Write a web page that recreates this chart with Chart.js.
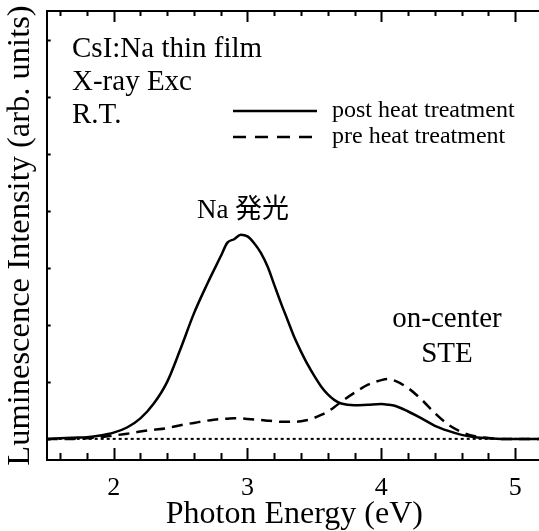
<!DOCTYPE html>
<html>
<head>
<meta charset="utf-8">
<script src="https://cdn.jsdelivr.net/npm/chart.js@4.4.1/dist/chart.umd.min.js"></script>
<style>
    html, body { margin: 0; padding: 0; background: #fff; overflow: hidden; }
    #wrap { width: 542px; height: 531px; }
</style>
</head>
<body>
<div id="wrap"><canvas id="spectrum" width="542" height="531"></canvas></div>
<script>
// Photon energy grid (eV)
const energy = [1.5, 1.6, 1.7, 1.8, 1.9, 2.0, 2.1, 2.2, 2.3, 2.4, 2.5, 2.6, 2.7, 2.8, 2.85, 2.9, 2.95, 3.0, 3.05, 3.1,
    3.15, 3.2, 3.25, 3.3, 3.35, 3.4, 3.45, 3.5, 3.55, 3.6, 3.65, 3.7, 3.8, 3.9, 4.0, 4.05, 4.1, 4.2, 4.3, 4.4,
    4.5, 4.6, 4.7, 4.8, 4.9, 5.0, 5.1, 5.2];

// post heat treatment (solid)
const postHeat = [0.00, 0.01, 0.02, 0.03, 0.06, 0.11, 0.20, 0.36, 0.62, 1.00, 1.58, 2.20, 2.72, 3.20, 3.44, 3.50, 3.58, 3.55, 3.43, 3.26,
    3.02, 2.70, 2.38, 2.08, 1.78, 1.53, 1.30, 1.10, 0.92, 0.78, 0.68, 0.62, 0.59, 0.60, 0.61, 0.60, 0.58, 0.48, 0.36, 0.23,
    0.14, 0.07, 0.03, 0.01, 0.00, 0.00, 0.00, 0.00];

// pre heat treatment (dashed)
const preHeat = [0.00, 0.00, 0.00, 0.01, 0.03, 0.06, 0.09, 0.13, 0.16, 0.19, 0.24, 0.28, 0.32, 0.35, 0.355, 0.36, 0.36, 0.35, 0.34, 0.33,
    0.32, 0.31, 0.30, 0.30, 0.30, 0.31, 0.33, 0.37, 0.42, 0.48, 0.56, 0.65, 0.81, 0.95, 1.03, 1.05, 1.02, 0.89, 0.69, 0.45,
    0.25, 0.12, 0.045, 0.015, 0.00, 0.00, 0.00, 0.00];

// zero line
const baseEnergy = [1.5, 5.2];
const baseLevel = [0, 0];

// ticks
const xTickLabels = [2, 3, 4, 5];
const xMinorStep = 0.2;
const yTicks = [0, 1, 2, 3, 4, 5, 6, 7];

const serif = "'Liberation Serif', 'Times New Roman', 'Noto Sans CJK JP', serif";

const toPoints = (xs, ys) => xs.map((x, i) => ({ x: x, y: ys[i] }));

// draws inward ticks, top frame line, legend and labels
const decorations = {
    id: 'decorations',
    afterDraw(chart) {
        const ctx = chart.ctx;
        const area = chart.chartArea;
        const xs = chart.scales.x;
        const ys = chart.scales.y;
        ctx.save();
        ctx.strokeStyle = '#000';
        ctx.fillStyle = '#000';

        // top frame
        ctx.lineWidth = 2;
        ctx.beginPath();
        ctx.moveTo(area.left, area.top);
        ctx.lineTo(area.right, area.top);
        ctx.stroke();

        // x ticks, bottom and top
        const nSteps = Math.round((xs.max - xs.min) / xMinorStep * 2);
        for (let i = 0; i <= nSteps; i++) {
            const val = Math.round((xs.min + i * xMinorStep / 2) * 10) / 10;
            if (Math.round(val * 10) % 2 !== 0) continue;
            const px = Math.round(xs.getPixelForValue(val)) + 0.5;
            const major = xTickLabels.includes(val);
            ctx.beginPath();
            ctx.moveTo(px, area.bottom);
            ctx.lineTo(px, area.bottom - (major ? 12 : 7));
            ctx.moveTo(px, area.top);
            ctx.lineTo(px, area.top + (major ? 11 : 5));
            ctx.stroke();
        }

        // y ticks on the left
        yTicks.forEach(v => {
            const py = Math.round(ys.getPixelForValue(v)) + 0.5;
            ctx.beginPath();
            ctx.moveTo(area.left, py);
            ctx.lineTo(area.left + 4, py);
            ctx.stroke();
        });

        // legend
        ctx.lineWidth = 2.5;
        ctx.beginPath();
        ctx.moveTo(233, 111);
        ctx.lineTo(317, 111);
        ctx.stroke();
        ctx.setLineDash([13, 9]);
        ctx.beginPath();
        ctx.moveTo(233, 137);
        ctx.lineTo(317, 137);
        ctx.stroke();
        ctx.setLineDash([]);

        ctx.textBaseline = 'alphabetic';
        ctx.textAlign = 'left';
        ctx.font = '24px ' + serif;
        ctx.fillText('post heat treatment', 332, 117);
        ctx.fillText('pre heat treatment', 332, 143);

        // sample info
        ctx.font = '29px ' + serif;
        ctx.fillText('CsI:Na thin film', 72, 57);
        ctx.fillText('X-ray Exc', 72, 90);
        ctx.fillText('R.T.', 72, 123);

        // peak labels
        ctx.textAlign = 'center';
        ctx.font = '27px ' + serif;
        ctx.fillText('Na 発光', 243, 218);
        ctx.font = '29px ' + serif;
        ctx.fillText('on-center', 447, 327);
        ctx.fillText('STE', 447, 362);
        ctx.restore();
    }
};

const ctx = document.getElementById('spectrum').getContext('2d');
new Chart(ctx, {
    type: 'line',
    data: {
        datasets: [
            {
                label: 'zero',
                data: toPoints(baseEnergy, baseLevel),
                borderColor: '#000',
                borderWidth: 2,
                borderDash: [3, 3],
                pointRadius: 0,
                tension: 0
            },
            {
                label: 'pre heat treatment',
                data: toPoints(energy, preHeat),
                borderColor: '#000',
                borderWidth: 2.5,
                borderDash: [11, 7],
                pointRadius: 0,
                cubicInterpolationMode: 'monotone'
            },
            {
                label: 'post heat treatment',
                data: toPoints(energy, postHeat),
                borderColor: '#000',
                borderWidth: 2.5,
                pointRadius: 0,
                cubicInterpolationMode: 'monotone'
            }
        ]
    },
    options: {
        responsive: false,
        animation: false,
        events: [],
        layout: { padding: { top: 11, left: 0, right: 0, bottom: 0 } },
        plugins: {
            legend: { display: false },
            tooltip: { enabled: false }
        },
        scales: {
            x: {
                type: 'linear',
                min: 1.5,
                max: 5.2,
                afterBuildTicks: axis => { axis.ticks = xTickLabels.map(v => ({ value: v })); },
                afterFit: axis => { axis.height = 71; },
                grid: { display: false, drawTicks: false },
                border: { display: true, color: '#000', width: 2 },
                ticks: {
                    color: '#000',
                    padding: 13,
                    maxRotation: 0,
                    autoSkip: false,
                    font: { family: serif, size: 26 }
                },
                title: {
                    display: true,
                    text: 'Photon Energy (eV)',
                    color: '#000',
                    padding: 0,
                    font: { family: serif, size: 32, lineHeight: 1.0 }
                }
            },
            y: {
                type: 'linear',
                min: -0.37,
                max: 7.5,
                afterBuildTicks: axis => { axis.ticks = yTicks.map(v => ({ value: v })); },
                afterFit: axis => { axis.width = 46.7; },
                grid: { display: false, drawTicks: false },
                border: { display: true, color: '#000', width: 2 },
                ticks: { display: false },
                title: {
                    display: true,
                    text: 'Luminescence Intensity (arb. units)',
                    color: '#000',
                    padding: 0,
                    font: { family: serif, size: 32.5, lineHeight: 1.23 }
                }
            }
        }
    },
    plugins: [decorations]
});
</script>
</body>
</html>
